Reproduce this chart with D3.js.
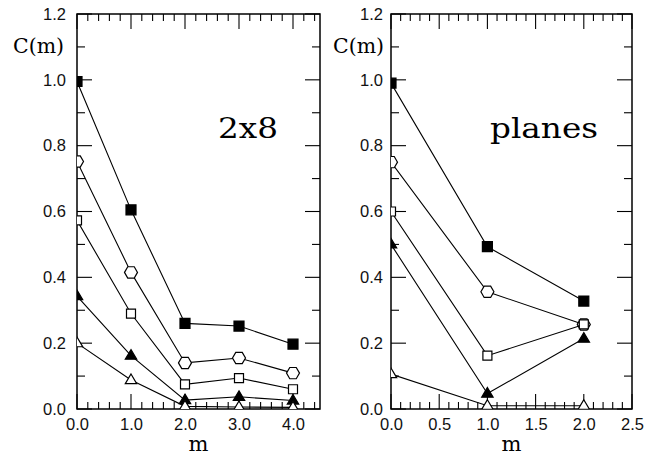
<!DOCTYPE html>
<html>
<head>
<meta charset="utf-8">
<script src="https://cdn.jsdelivr.net/npm/d3@7"></script>
<style>
  body { margin: 0; background: #fff; }
  svg { display: block; }
</style>
</head>
<body>
<div id="chart"></div>
<script>
// x values of each panel
const mLadder = [0, 1, 2, 3, 4];
const mPlanes = [0, 1, 2];

// 2x8 panel, one array per symbol
const ladderFilledSquare = [0.995, 0.605, 0.26, 0.252, 0.197];
const ladderHexagon = [0.752, 0.415, 0.14, 0.155, 0.109];
const ladderOpenSquare = [0.573, 0.29, 0.075, 0.094, 0.06];
const ladderFilledTriangle = [0.343, 0.162, 0.027, 0.037, 0.026];
const ladderOpenTriangle = [0.2, 0.088, 0.008, 0.006, 0.005];

// planes panel
const planesFilledSquare = [0.99, 0.493, 0.328];
const planesHexagon = [0.75, 0.356, 0.257];
const planesOpenSquare = [0.6, 0.162, 0.257];
const planesFilledTriangle = [0.5, 0.047, 0.214];
const planesOpenTriangle = [0.106, 0.01, 0.01];

const yTicks = [0.0, 0.2, 0.4, 0.6, 0.8, 1.0, 1.2];
const ladderXTicks = [0, 1, 2, 3, 4];
const planesXTicks = [0, 0.5, 1, 1.5, 2, 2.5];

const W = 652, H = 458;
const svg = d3.select("#chart").append("svg")
    .attr("width", W)
    .attr("height", H);

const symbols = ["fsq", "hex", "osq", "ftri", "otri"];

// marker path for each symbol type
function markerPath(type) {
    if (type === "fsq" || type === "osq") {
        const s = type === "fsq" ? 5 : 4.5;
        return `M${-s},${-s}H${s}V${s}H${-s}Z`;
    }
    if (type === "hex") {
        const r = 6.5, h = r * Math.sqrt(3) / 2;
        return `M${-r},0L${-r / 2},${-h}L${r / 2},${-h}L${r},0L${r / 2},${h}L${-r / 2},${h}Z`;
    }
    // triangles
    const r = 6;
    return `M0,${-r}L${r * 0.95},${r * 0.6}L${-r * 0.95},${r * 0.6}Z`;
}

function drawPanel(opt) {
    const x = d3.scaleLinear().domain(opt.xDomain).range([opt.left, opt.right]);
    const y = d3.scaleLinear().domain([0, 1.2]).range([409, 14]);
    const g = svg.append("g");

    const clipId = "clip-" + opt.name;
    svg.append("clipPath").attr("id", clipId)
        .append("rect")
        .attr("x", opt.left).attr("y", 14)
        .attr("width", opt.right - opt.left).attr("height", 409 - 14);

    // inward ticks on all four sides
    const xMinor = d3.range(opt.xDomain[0], opt.xDomain[1] + 1e-9, opt.xMinorStep);
    const yMinor = d3.range(0, 1.2 + 1e-9, 0.1);
    const tk = g.append("g").attr("stroke", "#000").attr("stroke-width", 1.1);
    xMinor.forEach(v => {
        const major = opt.xTicks.some(t => Math.abs(t - v) < 1e-6);
        const len = major ? 15 : 7;
        tk.append("line").attr("x1", x(v)).attr("x2", x(v)).attr("y1", 409).attr("y2", 409 - len);
        tk.append("line").attr("x1", x(v)).attr("x2", x(v)).attr("y1", 14).attr("y2", 14 + len);
    });
    yMinor.forEach((v, i) => {
        const len = i % 2 === 0 ? 15 : 8;
        tk.append("line").attr("x1", opt.left).attr("x2", opt.left + len).attr("y1", y(v)).attr("y2", y(v));
        tk.append("line").attr("x1", opt.right).attr("x2", opt.right - len).attr("y1", y(v)).attr("y2", y(v));
    });

    // tick labels via d3 axes (tick lines hidden)
    const xAxis = g.append("g")
        .attr("transform", "translate(0,409)")
        .call(d3.axisBottom(x).tickValues(opt.xTicks).tickSize(0).tickPadding(9)
            .tickFormat(d3.format(".1f")));
    const yAxis = g.append("g")
        .attr("transform", `translate(${opt.left},0)`)
        .call(d3.axisLeft(y).tickValues(yTicks).tickSize(0).tickPadding(opt.yPad)
            .tickFormat(d3.format(".1f")));
    [xAxis, yAxis].forEach(a => {
        a.select(".domain").remove();
        a.selectAll("text")
            .attr("font-family", "Liberation Sans, Arial, sans-serif")
            .attr("font-size", 16.5)
            .attr("fill", "#111");
    });

    // frame
    g.append("rect")
        .attr("x", opt.left).attr("y", 14)
        .attr("width", opt.right - opt.left).attr("height", 409 - 14)
        .attr("fill", "none").attr("stroke", "#000").attr("stroke-width", 1.5);

    // series
    const plot = g.append("g").attr("clip-path", `url(#${clipId})`);
    const line = d3.line().x(d => x(d[0])).y(d => y(d[1]));
    opt.series.forEach((vals, si) => {
        const pts = opt.xs.map((m, i) => [m, vals[i]]);
        plot.append("path")
            .attr("d", line(pts))
            .attr("fill", "none").attr("stroke", "#000").attr("stroke-width", 1.1);
        const type = symbols[si];
        const filled = type[0] === "f";
        plot.selectAll(null).data(pts).enter().append("path")
            .attr("transform", d => `translate(${x(d[0])},${y(d[1])})`)
            .attr("d", markerPath(type))
            .attr("fill", filled ? "#000" : "#fff")
            .attr("stroke", "#000")
            .attr("stroke-width", 1.2);
    });

    // labels
    const serif = "DejaVu Serif, Liberation Serif, serif";
    g.append("text")
        .attr("x", opt.cmX).attr("y", 53)
        .attr("font-family", serif).attr("font-size", 20)
        .attr("textLength", 51).attr("lengthAdjust", "spacingAndGlyphs")
        .text("C(m)");
    g.append("text")
        .attr("x", (opt.left + opt.right) / 2).attr("y", 451)
        .attr("text-anchor", "middle")
        .attr("font-family", serif).attr("font-size", 21)
        .text("m");
    g.append("text")
        .attr("x", opt.labelX).attr("y", 138)
        .attr("font-family", serif).attr("font-size", 27)
        .attr("textLength", opt.labelW).attr("lengthAdjust", "spacingAndGlyphs")
        .text(opt.label);
}

drawPanel({
    name: "ladder",
    xDomain: [0, 4.5], left: 77, right: 320,
    xTicks: ladderXTicks, xMinorStep: 0.2,
    xs: mLadder,
    series: [ladderFilledSquare, ladderHexagon, ladderOpenSquare, ladderFilledTriangle, ladderOpenTriangle],
    yPad: 11, cmX: 13, label: "2x8", labelX: 218, labelW: 60
});

drawPanel({
    name: "planes",
    xDomain: [0, 2.5], left: 391, right: 632,
    xTicks: planesXTicks, xMinorStep: 0.1,
    xs: mPlanes,
    series: [planesFilledSquare, planesHexagon, planesOpenSquare, planesFilledTriangle, planesOpenTriangle],
    yPad: 8, cmX: 333, label: "planes", labelX: 490, labelW: 108
});
</script>
</body>
</html>
